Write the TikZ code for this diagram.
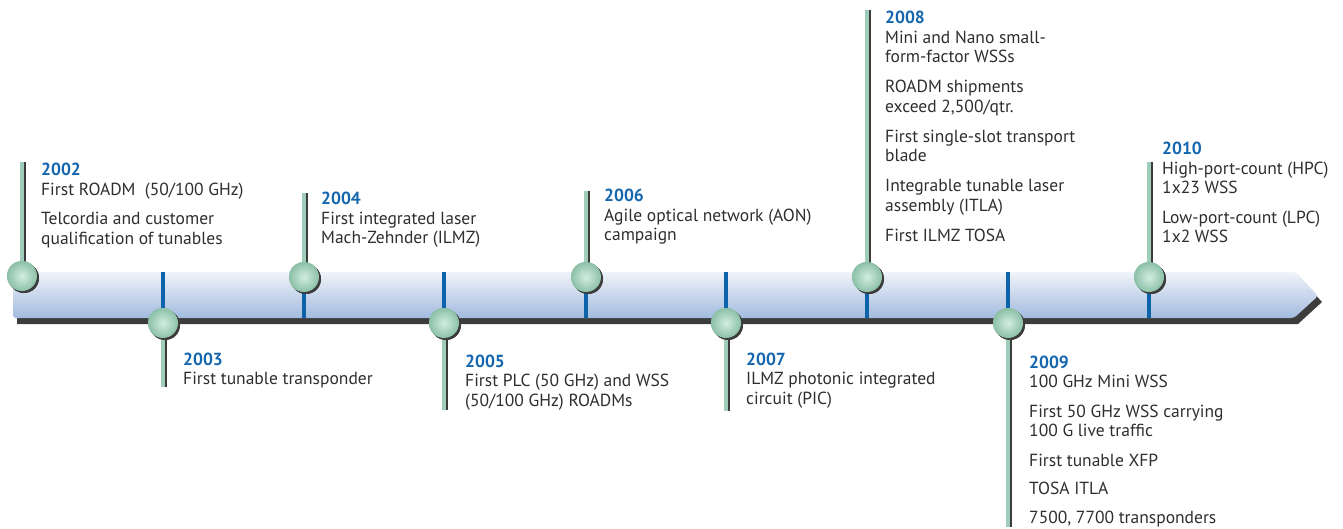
\documentclass[tikz,border=0pt]{standalone}
\usepackage{fontspec}
\setmainfont{PT Sans}
\usetikzlibrary{shadows}
\definecolor{stemgreen}{HTML}{9FCDB9}
\definecolor{dotin}{HTML}{D2EDE0}
\definecolor{dotout}{HTML}{8CC0A7}
\definecolor{shadowgray}{HTML}{3C3C3C}
\definecolor{tickblue}{HTML}{0C63AA}
\definecolor{yearblue}{HTML}{1466AE}
\definecolor{textgray}{HTML}{2E2E2E}
\definecolor{bandtopc}{HTML}{F0F3F9}
\definecolor{bandbotc}{HTML}{A2BBDF}
\newcommand{\yr}[1]{\textbf{\textcolor{yearblue}{#1}}}
\newenvironment{items}{\begin{tabular}[t]{@{}l@{}}}{\end{tabular}}
\tikzset{
  stem/.style={line width=4pt,draw=stemgreen},
  stemshade/.style={line width=2pt,draw=shadowgray},
  tick/.style={line width=4pt,draw=tickblue},
  dot/.style={circle,minimum size=30pt,inner sep=0pt,draw=none,
    inner color=dotin,outer color=dotout,
    general shadow={fill=shadowgray,shadow xshift=2pt,shadow yshift=-2pt}},
  lbl/.style={anchor=base west,inner sep=0pt,text=textgray,
    font=\fontsize{17.5}{19.5}\selectfont},
}
\begin{document}
\begin{tikzpicture}[x=1pt,y=-1pt]
\useasboundingbox (0,0) rectangle (1343,529);
\coordinate (bandtop) at (0,272);
\coordinate (bandbot) at (0,318);
% band and its shadow
\fill[shadowgray,shift={(4,6)}](13,272)--(1296,272)--(1318,296)--(1294,318)--(13,318)--cycle;
\shade[top color=bandtopc,bottom color=bandbotc,rounded corners=3pt]
  (13,272)--(1296,272)--(1318,296)--(1294,318)--(13,318)--cycle;
% year dots
\node[dot] (d2002) at (22,276) {};
\node[dot] (d2003) at (163,323) {};
\node[dot] (d2004) at (304,277) {};
\node[dot] (d2005) at (444,323) {};
\node[dot] (d2006) at (586,277) {};
\node[dot] (d2007) at (726,323) {};
\node[dot] (d2008) at (867,277) {};
\node[dot] (d2009) at (1008,323) {};
\node[dot] (d2010) at (1149,277) {};
% stem ends
\coordinate (s2002) at (22,162);
\coordinate (s2003) at (163,387);
\coordinate (s2004) at (304,193);
\coordinate (s2005) at (444,410);
\coordinate (s2006) at (586,191);
\coordinate (s2007) at (726,411);
\coordinate (s2008) at (867,10);
\coordinate (s2009) at (1008,527);
\coordinate (s2010) at (1149,162);
% blue ticks
\foreach \y in {2004,2006,2008,2010}
  \draw[tick] (d\y.center) -- (d\y.center |- bandbot);
\foreach \y in {2003,2005,2007,2009}
  \draw[tick] (d\y.center |- bandtop) -- (d\y.center);
% stems
\foreach \y in {2002,2003,2004,2005,2006,2007,2008,2009,2010}{
  \draw[stemshade] ([xshift=3pt]s\y) -- ([xshift=3pt]d\y.center);
  \draw[stem] (s\y) -- (d\y.center);
}
% redraw dots on top of stems
\foreach \y/\px/\py in {2002/22/276,2003/163/323,2004/304/277,2005/444/323,2006/586/277,2007/726/323,2008/867/277,2009/1008/323,2010/1149/277}
  \node[dot] at (\px,\py) {};
% labels
\node[lbl] (l2002) at (41,176) {\begin{items}\yr{2002}\\First ROADM~~(50/100 GHz)\\[10pt]Telcordia and customer\\qualification of tunables\end{items}};
\node[lbl] (l2003) at (183,365) {\begin{items}\yr{2003}\\First tunable transponder\end{items}};
\node[lbl] (l2004) at (321,205) {\begin{items}\yr{2004}\\First integrated laser\\Mach-Zehnder (ILMZ)\end{items}};
\node[lbl] (l2005) at (465,367) {\begin{items}\yr{2005}\\First PLC (50 GHz) and WSS\\(50/100 GHz) ROADMs\end{items}};
\node[lbl] (l2006) at (604,202) {\begin{items}\yr{2006}\\Agile optical network (AON)\\campaign\end{items}};
\node[lbl] (l2007) at (746,365) {\begin{items}\yr{2007}\\ILMZ photonic integrated\\circuit (PIC)\end{items}};
\node[lbl] (l2008) at (885,24) {\begin{items}\yr{2008}\\Mini and Nano small-\\form-factor WSSs\\[10.5pt]ROADM shipments\\exceed 2,500/qtr.\\[10.5pt]First single-slot transport\\blade\\[10.5pt]Integrable tunable laser\\assembly (ITLA)\\[10.5pt]First ILMZ TOSA\end{items}};
\node[lbl] (l2009) at (1029,368) {\begin{items}\yr{2009}\\100 GHz Mini WSS\\[10pt]First 50 GHz WSS carrying\\100 G live traffic\\[10pt]First tunable XFP\\[9pt]TOSA ITLA\\[9pt]7500, 7700 transponders\end{items}};
\node[lbl] (l2010) at (1162,155) {\begin{items}\yr{2010}\\High-port-count (HPC)\\1x23 WSS\\[10pt]Low-port-count (LPC)\\1x2 WSS\end{items}};
\end{tikzpicture}
\end{document}
